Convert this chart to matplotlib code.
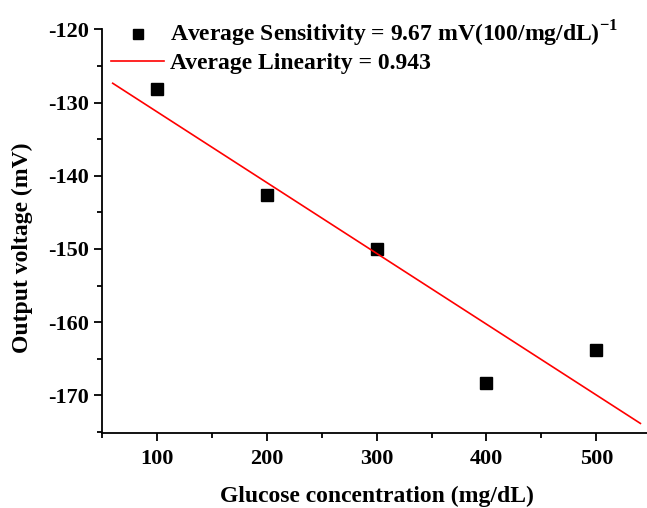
import numpy as np
import matplotlib
matplotlib.use("Agg")
import matplotlib.pyplot as plt
from matplotlib.ticker import MultipleLocator

# measured points
glucose = [100, 200, 300, 400, 500]
voltage = [-128.2, -142.7, -150.0, -168.3, -163.8]
fit_range = [60, 540]

plt.rcParams['font.family'] = 'Liberation Serif'
plt.rcParams['font.weight'] = 'bold'
plt.rcParams['axes.unicode_minus'] = False
plt.rcParams['mathtext.fontset'] = 'custom'
plt.rcParams['mathtext.rm'] = 'Liberation Serif:bold'
plt.rcParams['mathtext.bf'] = 'Liberation Serif:bold'

slope, icpt = np.polyfit(glucose, voltage, 1)
fx = np.array(fit_range)
fy = slope * fx + icpt

W, H = 647, 508
fig = plt.figure(figsize=(W / 100, H / 100), dpi=100)
ax = fig.add_axes([101.7 / W, 1 - 432.7 / H, 545.3 / W, 403.4 / H])

ax.plot(glucose, voltage, 's', color='black', markersize=9, linestyle='none',
        label='Average Sensitivity = 9.67 mV(100/mg/dL)$^{-1}$')
ax.plot(fx, fy, color='red', linewidth=1.2, label='Average Linearity = 0.943')

ax.set_xlim(50, 546)
ax.set_ylim(-175.1, -120)
ax.xaxis.set_major_locator(MultipleLocator(100))
ax.xaxis.set_minor_locator(MultipleLocator(50))
ax.yaxis.set_major_locator(MultipleLocator(10))
ax.yaxis.set_minor_locator(MultipleLocator(5))

for s in ['top', 'right']:
    ax.spines[s].set_visible(False)
for s in ['left', 'bottom']:
    ax.spines[s].set_linewidth(1.3)

ax.tick_params(which='major', direction='out', length=6, width=1.3, labelsize=16, pad=3)
ax.tick_params(axis='x', which='major', pad=6)
ax.tick_params(which='minor', direction='out', length=3.5, width=1.3)
for lab in ax.get_xticklabels() + ax.get_yticklabels():
    lab.set_fontweight('bold')

ax.set_xlabel('Glucose concentration (mg/dL)', fontsize=17, fontweight='bold')
ax.set_ylabel('Output voltage (mV)', fontsize=17, fontweight='bold')
ax.xaxis.set_label_coords(0.505, -0.131)
ax.yaxis.set_label_coords(-0.126, 0.459)

leg = ax.legend(loc='upper left', bbox_to_anchor=(111 / W, 1 - 19 / H),
                bbox_transform=fig.transFigure, frameon=False, borderpad=0,
                handlelength=2.25, handletextpad=0.25, labelspacing=0.15,
                borderaxespad=0, markerscale=0.75,
                prop={'weight': 'bold', 'size': 17})

fig.savefig('out.png', dpi=100)
